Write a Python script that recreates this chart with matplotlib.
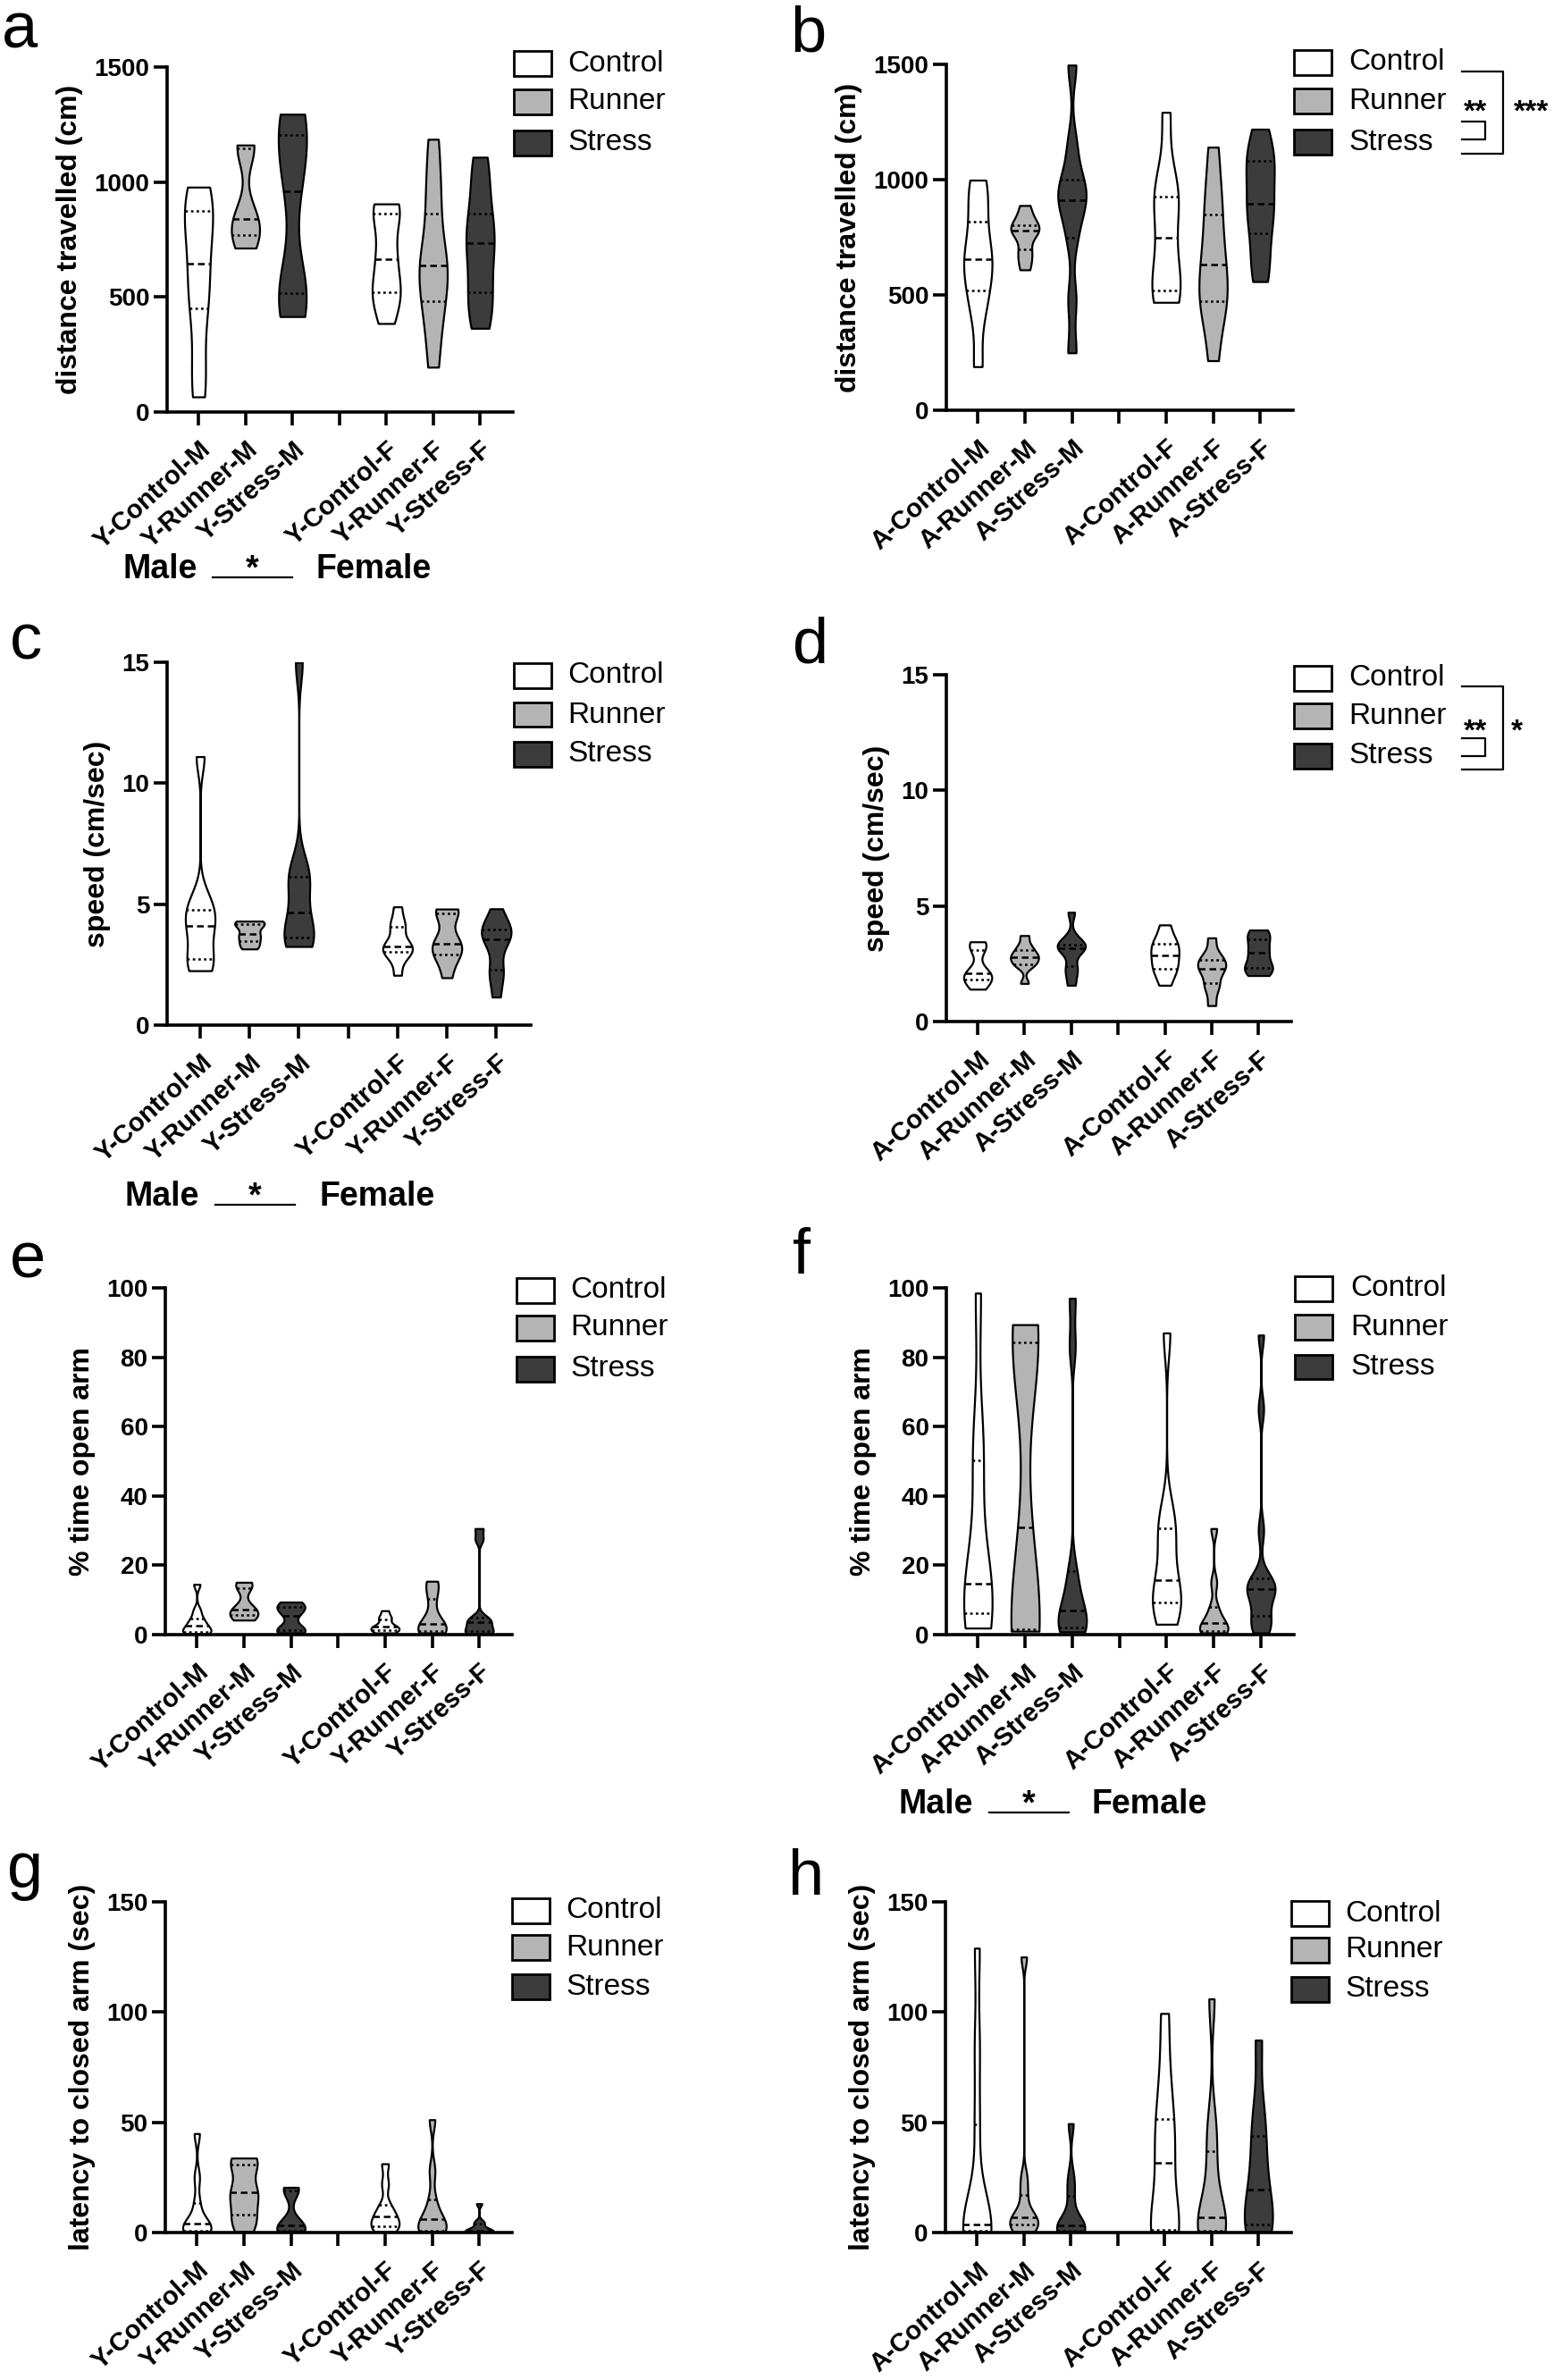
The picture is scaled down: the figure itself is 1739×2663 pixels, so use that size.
import numpy as np
import matplotlib
matplotlib.use("Agg")
import matplotlib.pyplot as plt
import matplotlib.transforms as mtransforms
from matplotlib import cbook, mlab
from matplotlib.patches import Rectangle
from matplotlib.lines import Line2D

plt.rcParams['font.family'] = ['Liberation Sans', 'DejaVu Sans']

W, H = 1739, 2663

# groups and labels
groups = ['Control', 'Runner', 'Stress']
group_colors = ['#ffffff', '#b4b4b4', '#3c3c3c']
young_labels = ['Y-Control-M', 'Y-Runner-M', 'Y-Stress-M', '',
                'Y-Control-F', 'Y-Runner-F', 'Y-Stress-F']
adult_labels = ['A-Control-M', 'A-Runner-M', 'A-Stress-M', '',
                'A-Control-F', 'A-Runner-F', 'A-Stress-F']
positions = [0, 1, 2, 4, 5, 6]

# values (order: Control-M, Runner-M, Stress-M, Control-F, Runner-F, Stress-F)
dist_young = [
    [66, 200, 452, 520, 647, 780, 875, 905, 978],
    [713, 750, 771, 810, 839, 870, 1147, 1155, 1161],
    [415, 480, 517, 560, 958, 1080, 1203, 1260, 1295],
    [385, 480, 520, 560, 663, 720, 864, 880, 905],
    [195, 380, 481, 590, 636, 680, 864, 1000, 1186],
    [364, 450, 522, 640, 734, 780, 864, 1000, 1108],
]
dist_adult = [
    [189, 420, 519, 600, 654, 700, 817, 930, 998],
    [609, 660, 697, 760, 778, 790, 803, 840, 888],
    [249, 480, 747, 870, 911, 960, 1001, 1150, 1497],
    [468, 500, 519, 640, 747, 900, 927, 1000, 1292],
    [215, 420, 472, 520, 632, 700, 847, 950, 1141],
    [558, 650, 768, 860, 896, 1000, 1081, 1110, 1219],
]
speed_young = [
    [2.25, 2.5, 2.74, 3.6, 4.09, 4.5, 4.76, 5.3, 11.1],
    [3.15, 3.3, 3.49, 3.7, 3.77, 4.1, 4.18, 4.25, 4.30],
    [3.25, 3.4, 3.62, 4.0, 4.65, 5.8, 6.12, 6.5, 15.0],
    [2.06, 2.8, 3.03, 3.15, 3.25, 3.4, 4.06, 4.2, 4.89],
    [1.96, 2.7, 2.93, 3.2, 3.38, 3.6, 4.62, 4.7, 4.80],
    [1.16, 2.1, 2.29, 3.4, 3.56, 3.9, 3.97, 4.1, 4.81],
]
speed_adult = [
    [1.40, 1.7, 1.82, 1.95, 2.07, 2.2, 3.11, 3.3, 3.45],
    [1.65, 2.4, 2.49, 2.7, 2.78, 2.9, 3.08, 3.3, 3.72],
    [1.57, 2.1, 2.41, 3.1, 3.16, 3.25, 3.33, 3.6, 4.73],
    [1.57, 2.1, 2.29, 2.6, 2.88, 3.1, 3.37, 3.6, 4.18],
    [0.69, 1.4, 1.68, 2.2, 2.27, 2.5, 2.66, 2.9, 3.62],
    [1.99, 2.2, 2.32, 2.5, 2.96, 3.1, 3.54, 3.75, 3.96],
]
open_young = [
    [0.3, 0.6, 0.8, 1.5, 2.5, 3.5, 4.7, 7.0, 14.5],
    [4.2, 5.0, 5.6, 6.5, 7.2, 8.0, 13.4, 14.5, 15.1],
    [0.5, 1.0, 1.3, 2.0, 5.5, 7.0, 7.9, 8.5, 9.4],
    [0.5, 1.0, 1.2, 2.0, 2.2, 2.5, 4.5, 5.0, 6.9],
    [0.5, 0.8, 1.0, 2.0, 3.0, 5.0, 10.3, 14.0, 15.4],
    [0.0, 0.5, 1.0, 2.0, 3.5, 4.0, 5.0, 27.5, 30.6],
]
open_adult = [
    [1.9, 3.5, 6.2, 10.0, 14.8, 20.0, 50.2, 55.0, 98.5],
    [1.0, 1.3, 1.6, 5.0, 31.0, 80.0, 84.2, 88.0, 89.4],
    [0.8, 1.5, 2.1, 5.0, 7.0, 12.0, 18.2, 83.0, 97.0],
    [3.0, 7.0, 9.4, 12.0, 15.7, 25.0, 30.6, 35.0, 87.0],
    [0.5, 0.8, 1.0, 2.0, 3.4, 5.0, 8.0, 15.0, 30.6],
    [0.5, 2.0, 4.0, 5.5, 10.0, 12.0, 13.1, 14.0, 15.0, 16.2, 30.0, 65.0, 86.4],
]
latency_young = [
    [0.5, 0.6, 0.8, 2.0, 3.9, 6.0, 13.4, 25.0, 44.9],
    [0.5, 5.0, 8.2, 15.0, 18.1, 20.0, 30.7, 32.0, 33.8],
    [0.5, 0.6, 0.8, 2.0, 3.1, 5.0, 18.9, 19.5, 20.5],
    [0.5, 2.0, 2.8, 5.0, 7.1, 9.0, 12.6, 22.0, 31.2],
    [0.5, 0.6, 0.8, 3.0, 6.0, 8.0, 15.0, 28.0, 51.2],
    [0.0, 0.2, 0.5, 0.8, 1.0, 2.0, 4.0, 5.0, 13.1],
]
latency_adult = [
    [0.5, 0.8, 1.0, 2.0, 3.5, 5.0, 49.1, 85.0, 129.0],
    [0.5, 2.0, 3.5, 5.0, 6.9, 8.0, 17.0, 25.0, 125.0],
    [0.5, 0.8, 1.0, 2.0, 3.1, 6.0, 16.8, 25.0, 49.4],
    [0.5, 0.8, 1.1, 5.0, 31.8, 40.0, 51.4, 70.0, 99.4],
    [0.5, 0.6, 0.8, 4.0, 6.9, 20.0, 37.0, 50.0, 106.0],
    [0.5, 2.0, 3.8, 8.0, 19.5, 30.0, 43.9, 55.0, 87.3],
]

dist_ticks = [0, 500, 1000, 1500]
speed_ticks = [0, 5, 10, 15]
open_ticks = [0, 20, 40, 60, 80, 100]
latency_ticks = [0, 50, 100, 150]

SMOOTH = 0.45
VW = 0.6


def fx(x):
    return x / W


def fy(y):
    return 1 - y / H


def kde(X, coords):
    # robust (Silverman-like) bandwidth, so long thin tails stay thin
    X = np.asarray(X, float)
    sd = X.std(ddof=1)
    q1, q3 = np.percentile(X, [25, 75])
    h = SMOOTH * min(sd, (q3 - q1) / 1.34)
    if h <= 0:
        h = SMOOTH * sd
    return mlab.GaussianKDE(X, h / sd).evaluate(coords)


def draw_violins(ax, data):
    fills = group_colors + group_colors
    stats = cbook.violin_stats(data, kde, points=400)
    parts = ax.violin(stats, positions=positions, widths=VW,
                      showmeans=False, showextrema=False, showmedians=False)
    for body, col in zip(parts['bodies'], fills):
        body.set_facecolor(col)
        body.set_edgecolor('black')
        body.set_linewidth(1.6)
        body.set_alpha(1)
    for vals, st, p in zip(data, stats, positions):
        half = 0.5 * VW * st['vals'] / st['vals'].max()
        q1, med, q3 = np.percentile(vals, [25, 50, 75])
        for q, ls in [(q1, (0, (1.1, 1.4))), (med, (0, (3, 1.8))),
                      (q3, (0, (1.1, 1.4)))]:
            w = np.interp(q, st['coords'], half)
            ax.plot([p - w, p + w], [q, q], color='black', lw=1.8,
                    ls=ls, solid_capstyle='butt', zorder=3)


def legend(fig, x, tops, tx):
    for name, col, top in zip(groups, group_colors, tops):
        fig.add_artist(Rectangle((fx(x), fy(top + 27.5)), 42 / W, 27.5 / H,
                                 transform=fig.transFigure, facecolor=col,
                                 edgecolor='black', lw=2))
        fig.text(fx(tx), fy(top + 14), name, fontsize=24, va='center', ha='left')


def bracket(fig, y_top, y_bot, y_in1, y_in2, s_inner, s_outer, x_outer_star, y_star):
    fig.add_artist(Line2D([fx(1636), fx(1682), fx(1682), fx(1636)],
                          [fy(y_top), fy(y_top), fy(y_bot), fy(y_bot)],
                          transform=fig.transFigure, color='black', lw=1.6))
    fig.add_artist(Line2D([fx(1636), fx(1662), fx(1662), fx(1636)],
                          [fy(y_in1), fy(y_in1), fy(y_in2), fy(y_in2)],
                          transform=fig.transFigure, color='black', lw=1.6))
    fig.text(fx(1651), fy(y_star), s_inner, fontsize=24, fontweight='bold',
             ha='center', va='baseline')
    fig.text(fx(x_outer_star), fy(y_star), s_outer, fontsize=24, fontweight='bold',
             ha='center', va='baseline')


def sex_row(fig, x_male, y_base, x_line, x_female):
    fig.text(fx(x_male), fy(y_base), 'Male', fontsize=27, fontweight='bold',
             ha='left', va='baseline')
    fig.add_artist(Line2D([fx(x_line[0]), fx(x_line[1])], [fy(y_base - 1)] * 2,
                          transform=fig.transFigure, color='black', lw=1.6))
    fig.text(fx((x_line[0] + x_line[1]) / 2), fy(y_base), '*', fontsize=27,
             fontweight='bold', ha='center', va='baseline')
    fig.text(fx(x_female), fy(y_base), 'Female', fontsize=27, fontweight='bold',
             ha='left', va='baseline')


fig = plt.figure(figsize=(W / 100, H / 100), dpi=100)

panels = [
    # data, labels, ticks, ylabel, (left, top, right, bottom), letter, (lx, lbase), legend
    (dist_young, young_labels, dist_ticks, 'distance travelled (cm)',
     (187, 75, 574, 461), 'a', (2, 53), (575, [57, 100, 146], 635)),
    (dist_adult, adult_labels, dist_ticks, 'distance travelled (cm)',
     (1059, 72, 1447, 459), 'b', (884, 58), (1448, [56, 99, 145], 1509)),
    (speed_young, young_labels, speed_ticks, 'speed (cm/sec)',
     (187, 741, 594, 1147), 'c', (11, 738), (575, [742, 786, 830], 635)),
    (speed_adult, adult_labels, speed_ticks, 'speed (cm/sec)',
     (1059, 755, 1445, 1143), 'd', (887, 741), (1448, [745, 787, 832], 1509)),
    (open_young, young_labels, open_ticks, '% time open arm',
     (185, 1441, 573, 1829), 'e', (11, 1430), (578, [1430, 1472, 1518], 638)),
    (open_adult, adult_labels, open_ticks, '% time open arm',
     (1059, 1441, 1448, 1829), 'f', (887, 1425), (1449, [1428, 1471, 1516], 1511)),
    (latency_young, young_labels, latency_ticks, 'latency to closed arm (sec)',
     (185, 2128, 573, 2498), 'g', (8, 2112), (573, [2124, 2165, 2209], 633)),
    (latency_adult, adult_labels, latency_ticks, 'latency to closed arm (sec)',
     (1058, 2128, 1445, 2498), 'h', (882, 2120), (1445, [2127, 2168, 2212], 1505)),
]

for data, labels, ticks, ylab, box, letter, lpos, leg in panels:
    l, t, r, b = box
    ax = fig.add_axes([fx(l), fy(b), (r - l) / W, (b - t) / H])
    draw_violins(ax, data)
    ax.set_xlim(-0.67, 6.7)
    ax.set_ylim(0, ticks[-1])
    ax.set_yticks(ticks)
    ax.set_yticklabels([str(v) for v in ticks], fontsize=20, fontweight='bold')
    ax.set_xticks(range(7))
    ax.set_xticklabels(labels, fontsize=21, fontweight='bold', rotation=42,
                       ha='right', va='top', rotation_mode='anchor')
    offset = mtransforms.ScaledTranslation(8 / 100, 0, fig.dpi_scale_trans)
    for lbl in ax.get_xticklabels():
        lbl.set_transform(lbl.get_transform() + offset)
    ax.set_ylabel(ylab, fontsize=23, fontweight='bold', labelpad=9)
    for side in ['top', 'right']:
        ax.spines[side].set_visible(False)
    for side in ['left', 'bottom']:
        ax.spines[side].set_linewidth(2.6)
    ax.tick_params(axis='y', width=2.6, length=11, pad=3)
    ax.tick_params(axis='x', width=2.6, length=11, pad=9)
    ax.patch.set_alpha(0)
    fig.text(fx(lpos[0]), fy(lpos[1]), letter, fontsize=52, ha='left', va='baseline')
    legend(fig, *leg)

bracket(fig, 80, 172, 136, 156, '**', '***', 1714, 135)
bracket(fig, 768, 861, 826, 846, '**', '*', 1697, 828)

sex_row(fig, 137, 647, (238, 327), 354)
sex_row(fig, 139, 1349, (241, 330), 357)
sex_row(fig, 1005, 2029, (1107, 1196), 1222)

fig.savefig('out.png', dpi=100, facecolor='white')
